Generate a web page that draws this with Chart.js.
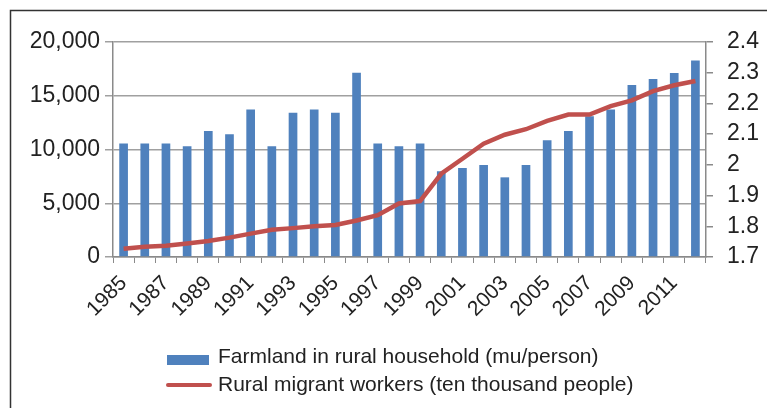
<!DOCTYPE html>
<html>
<head>
<meta charset="utf-8">
<script src="https://cdn.jsdelivr.net/npm/chart.js@4/dist/chart.umd.min.js"></script>
<style>
  html, body { margin: 0; padding: 0; background: #ffffff; }
  #wrap { position: relative; width: 767px; height: 408px; }
</style>
</head>
<body>
<div id="wrap"><canvas id="c" width="767" height="408"></canvas></div>
<script>
// ---- data ----
const years = ['1985','1986','1987','1988','1989','1990','1991','1992','1993','1994',
  '1995','1996','1997','1998','1999','2000','2001','2002','2003','2004',
  '2005','2006','2007','2008','2009','2010','2011','2012'];
const farmland = [10550,10550,10550,10300,11720,11410,13710,10300,13430,13710,
  13430,17150,10550,10300,10550,7970,8280,8560,7410,8560,
  10860,11720,13090,13710,16000,16560,17120,18270];
const migrants = [1.727,1.733,1.737,1.744,1.752,1.763,1.776,1.789,1.794,1.800,
  1.804,1.819,1.836,1.874,1.882,1.971,2.020,2.069,2.098,2.116,
  2.143,2.164,2.164,2.191,2.210,2.240,2.259,2.273];
const leftTicks = [0, 5000, 10000, 15000, 20000];
const rightTicks = [1.7, 1.8, 1.9, 2.0, 2.1, 2.2, 2.3, 2.4];
const seriesNames = ['Farmland in rural household (mu/person)', 'Rural migrant workers (ten thousand people)'];

const BLUE = '#4f81bd';
const RED = '#c0504d';
const FONT = "'Liberation Sans', Arial, sans-serif";
const TXT = '#222222';

const framePlugin = {
  id: 'frameAndLegend',
  beforeDraw(chart) {
    const ctx = chart.ctx;
    ctx.save();
    ctx.fillStyle = '#ffffff';
    ctx.fillRect(0, 0, chart.width, chart.height);
    ctx.restore();
  },
  afterDraw(chart) {
    const ctx = chart.ctx;
    ctx.save();
    // outer frame (top and left edges visible)
    ctx.strokeStyle = '#333333';
    ctx.lineWidth = 1.5;
    ctx.beginPath();
    ctx.moveTo(10.5, chart.height + 2);
    ctx.lineTo(10.5, 10.5);
    ctx.lineTo(chart.width + 2, 10.5);
    ctx.stroke();

    // legend
    const ds = chart.data.datasets;
    const barDs = ds.find(d => d.type === 'bar');
    const lineDs = ds.find(d => d.type === 'line');
    ctx.font = '21px ' + FONT;
    ctx.textBaseline = 'middle';
    ctx.textAlign = 'left';
    // bar entry
    ctx.fillStyle = barDs.backgroundColor;
    ctx.fillRect(167, 355, 42, 10);
    ctx.fillStyle = TXT;
    ctx.fillText(barDs.label, 218, 357);
    // line entry
    ctx.strokeStyle = lineDs.borderColor;
    ctx.lineWidth = 4;
    ctx.lineCap = 'round';
    ctx.beginPath();
    ctx.moveTo(168, 385);
    ctx.lineTo(210, 385);
    ctx.stroke();
    ctx.fillText(lineDs.label, 218, 385.5);
    ctx.restore();
  }
};

new Chart(document.getElementById('c'), {
  type: 'bar',
  data: {
    labels: years,
    datasets: [
      {
        type: 'line',
        label: seriesNames[1],
        data: migrants,
        yAxisID: 'y1',
        borderColor: RED,
        backgroundColor: RED,
        borderWidth: 4.5,
        pointRadius: 0,
        tension: 0,
        order: 0
      },
      {
        type: 'bar',
        label: seriesNames[0],
        data: farmland,
        yAxisID: 'y',
        backgroundColor: BLUE,
        borderWidth: 0,
        categoryPercentage: 1.0,
        barPercentage: 0.41,
        order: 1
      }
    ]
  },
  options: {
    responsive: false,
    animation: false,
    devicePixelRatio: 1,
    layout: { padding: { left: 0, right: 0, top: 42, bottom: 81 } },
    plugins: {
      legend: { display: false },
      tooltip: { enabled: false }
    },
    scales: {
      x: {
        offset: true,
        grid: { display: true, drawOnChartArea: false, drawTicks: true, tickLength: 6, color: '#8a8a8a', offset: true },
        border: { display: true, color: '#8a8a8a', width: 1.5 },
        ticks: {
          autoSkip: false,
          maxRotation: 45,
          minRotation: 45,
          padding: 8,
          color: TXT,
          font: { family: FONT, size: 21 },
          callback: function(v, i) { return i % 2 === 0 ? years[i] : ''; }
        },
        afterFit(scale) { scale.height = 70; }
      },
      y: {
        position: 'left',
        min: 0, max: 20000,
        afterBuildTicks(scale) { scale.ticks = leftTicks.map(v => ({ value: v })); },
        grid: { color: '#a0a0a0', lineWidth: 1.5, drawTicks: true, tickLength: 8 },
        border: { display: true, color: '#8a8a8a', width: 1.5 },
        ticks: {
          padding: 5,
          color: TXT,
          font: { family: FONT, size: 23 },
          callback: v => Number(v).toLocaleString('en-US')
        },
        afterFit(scale) { scale.width = 113; }
      },
      y1: {
        position: 'right',
        min: 1.7, max: 2.4,
        afterBuildTicks(scale) { scale.ticks = rightTicks.map(v => ({ value: v })); },
        grid: { drawOnChartArea: false, drawTicks: true, tickLength: 7, color: '#8a8a8a', lineWidth: 1.5 },
        border: { display: true, color: '#8a8a8a', width: 1.5 },
        ticks: {
          padding: 14,
          color: TXT,
          font: { family: FONT, size: 23 },
          callback: v => String(Number(Number(v).toFixed(1)))
        },
        afterFit(scale) { scale.width = 61; }
      }
    }
  },
  plugins: [framePlugin]
});
</script>
</body>
</html>
